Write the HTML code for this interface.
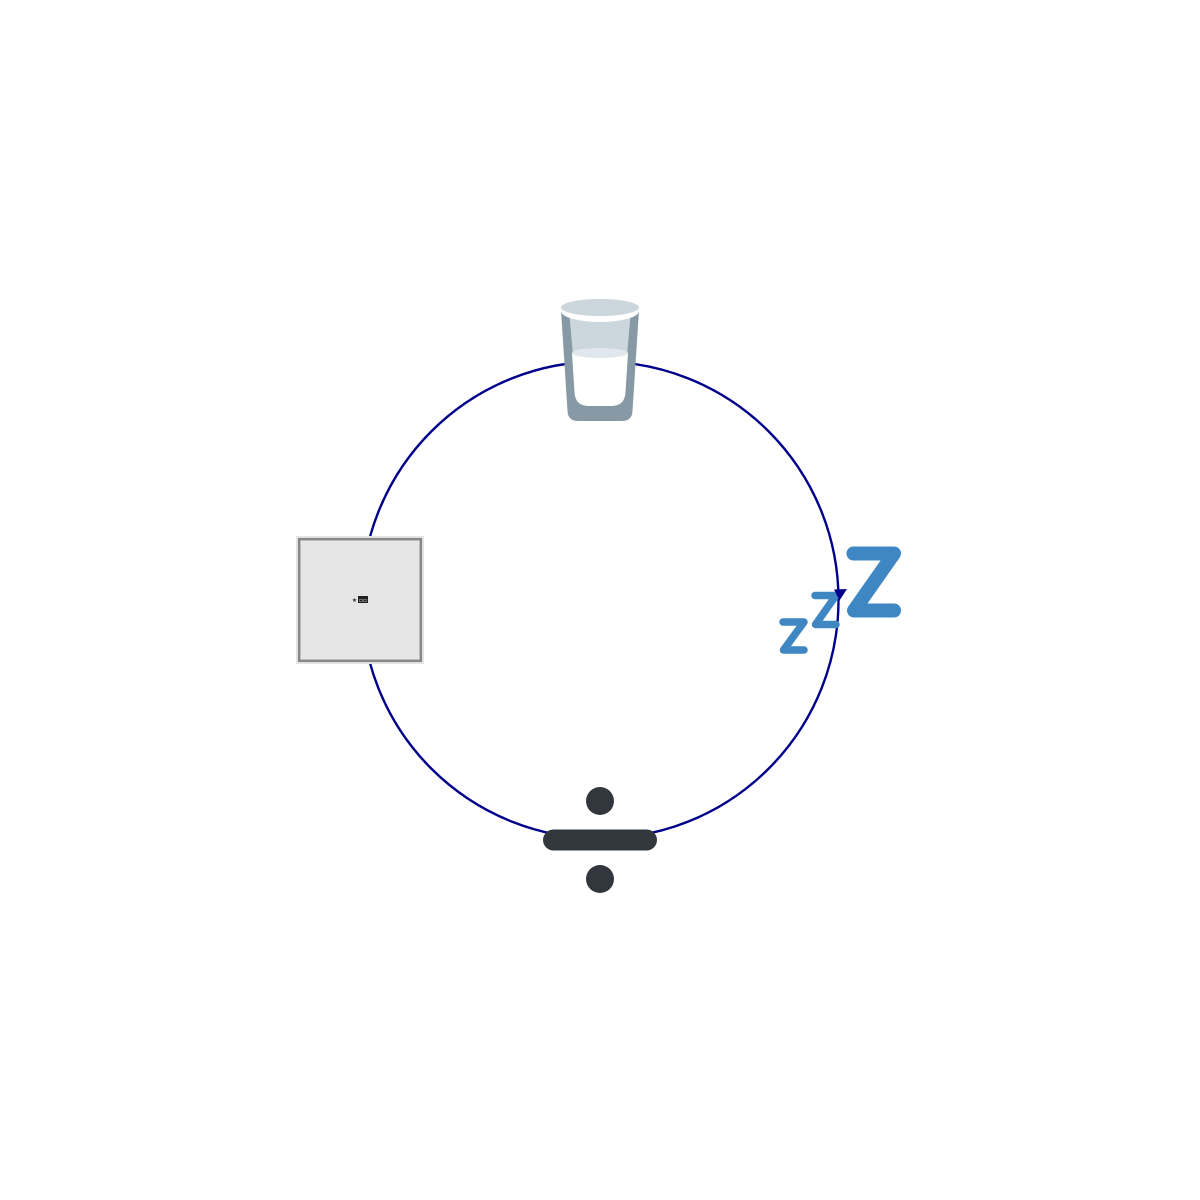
<!DOCTYPE html>
<html lang="en">
<head>
<meta charset="utf-8">
<title>Cycle diagram</title>
<style>
html,body{margin:0;padding:0;background:#fff;width:1200px;height:1200px;overflow:hidden}
svg{display:block}
</style>
</head>
<body>
<svg width="1200" height="1200" viewBox="0 0 1200 1200" xmlns="http://www.w3.org/2000/svg">
  <circle cx="600" cy="600" r="238.500" fill="none" stroke="#00008b" stroke-width="2.400"/>

  <g>
    <path d="M561,310 H639 L632.500,411 Q632,421 622,421 H578 Q568,421 567.500,411 Z" fill="#8899a6"/>
    <path d="M569.500,316 H630.500 L627,355 H573 Z" fill="#ccd6dd"/>
    <path d="M572,353 H628 L625.500,392 Q625,406 611,406 H589 Q575,406 574.500,392 Z" fill="#ffffff"/>
    <ellipse cx="600" cy="353" rx="28" ry="5" fill="#e1e8ed"/>
    <ellipse cx="600" cy="311" rx="39" ry="11" fill="#ffffff"/>
    <ellipse cx="600" cy="307.500" rx="39" ry="8.500" fill="#ccd6dd"/>
  </g>

  <g fill="none" stroke="#3f87c2" stroke-linejoin="round" stroke-linecap="round">
    <path d="M853.500,553.500 H894 L854,610.500 H894" stroke-width="14"/>
    <path d="M815,595.500 H836 L815.500,624.500 H836" stroke-width="7.500"/>
    <path d="M783,622 H804 L783.500,650 H804" stroke-width="7.500"/>
  </g>

  <polygon points="834,589.500 847,589 839.500,600.500" fill="#00008b"/>

  <g fill="#31373d">
    <circle cx="600" cy="801" r="14"/>
    <rect x="543" y="829.500" width="114" height="21" rx="10.500"/>
    <circle cx="600" cy="879" r="14"/>
  </g>

  <g>
    <rect x="296" y="536" width="128" height="128" fill="#e4e4e4"/>
    <rect x="299.200" y="539.200" width="121.600" height="121.600" fill="#e6e6e6" stroke="#888888" stroke-width="2.500"/>
    <text x="354.500" y="602" text-anchor="middle" font-family="'DejaVu Sans','Liberation Sans',sans-serif" font-size="6" fill="#333333">★</text>
    <rect x="358" y="596" width="10" height="7" fill="#222222"/>
    <text x="363" y="602" text-anchor="middle" font-family="'DejaVu Sans','Liberation Sans',sans-serif" font-size="6" fill="#dddddd">▫▫</text>
  </g>
</svg>
</body>
</html>
